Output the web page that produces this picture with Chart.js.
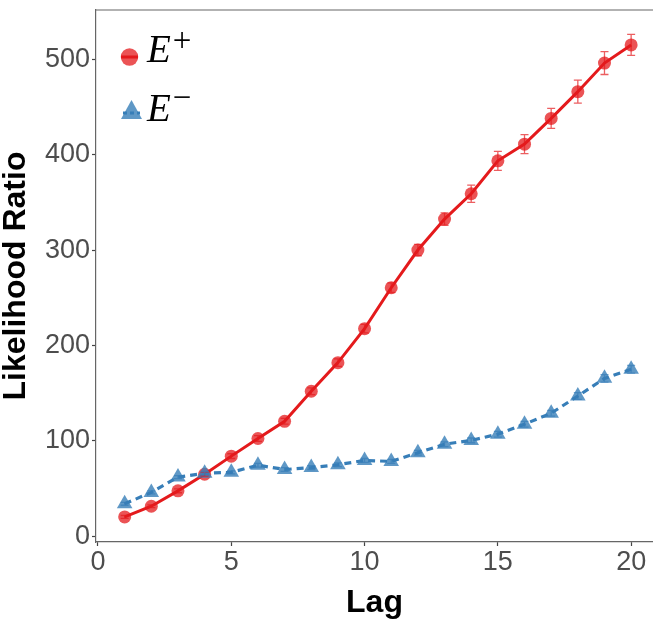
<!DOCTYPE html>
<html>
<head>
<meta charset="utf-8">
<script src="https://cdn.jsdelivr.net/npm/chart.js@4/dist/chart.umd.min.js"></script>
<style>
  body { margin: 0; background: #fff; }
  #wrap { width: 653px; height: 619px; position: relative; }
</style>
</head>
<body>
<div id="wrap"><canvas id="chart"></canvas></div>
<script>
const lags = [1, 2, 3, 4, 5, 6, 7, 8, 9, 10, 11, 12, 13, 14, 15, 16, 17, 18, 19, 20];
const ePlus = [20.3, 31.5, 47.6, 65, 84, 102.5, 120.5, 152, 182, 217.6, 260.5, 300, 332.5, 359, 393.5, 411, 438, 466, 496, 515];
const ePlusErr = [1.5, 1.5, 2, 2, 2.5, 3, 3, 3.5, 4, 4.5, 5, 6, 6.5, 9, 10, 10, 10.5, 12, 12, 11];
const eMinus = [34, 46, 62, 66, 67, 74.5, 70, 72, 75, 79.5, 78.5, 87.5, 96.5, 100.5, 107, 117.5, 129, 147, 165.5, 175];
const eMinusErr = [1.5, 1.5, 1.5, 1.5, 1.5, 2, 2, 2, 2, 2, 2, 2.5, 2.5, 2.5, 3, 3, 3, 3.5, 4, 4];
const xTicks = [0, 5, 10, 15, 20];
const yTicks = [0, 100, 200, 300, 400, 500];

const RED = 'rgba(228,26,28,1)';
const RED_PT = 'rgba(228,26,28,0.75)';
const BLUE = 'rgba(55,126,184,1)';
const BLUE_PT = 'rgba(55,126,184,0.8)';

const toPoints = (ys) => lags.map((x, i) => ({ x: x, y: ys[i] }));

// error bars, drawn through the scales
const errorBars = {
  id: 'errorBars',
  afterDatasetsDraw(chart) {
    const { ctx, scales: { x, y } } = chart;
    const sets = [[ePlus, ePlusErr, 'rgba(228,26,28,0.7)'], [eMinus, eMinusErr, 'rgba(55,126,184,0.7)']];
    ctx.save();
    ctx.lineWidth = 1.3;
    sets.forEach(([vals, errs, col]) => {
      ctx.strokeStyle = col;
      lags.forEach((l, i) => {
        const px = x.getPixelForValue(l);
        const top = y.getPixelForValue(vals[i] + errs[i]);
        const bot = y.getPixelForValue(vals[i] - errs[i]);
        ctx.beginPath();
        ctx.moveTo(px, top); ctx.lineTo(px, bot);
        ctx.moveTo(px - 4, top); ctx.lineTo(px + 4, top);
        ctx.moveTo(px - 4, bot); ctx.lineTo(px + 4, bot);
        ctx.stroke();
      });
    });
    ctx.restore();
  }
};

// top border of the panel
const panelBorder = {
  id: 'panelBorder',
  beforeDatasetsDraw(chart) {
    const { ctx, chartArea: a } = chart;
    ctx.save();
    ctx.strokeStyle = '#666';
    ctx.lineWidth = 1.2;
    ctx.beginPath();
    ctx.moveTo(a.left, a.top); ctx.lineTo(a.right, a.top);
    ctx.stroke();
    ctx.restore();
  }
};

// legend inside the panel, top left
const insideLegend = {
  id: 'insideLegend',
  afterDraw(chart) {
    const ctx = chart.ctx;
    ctx.save();
    // E+
    ctx.strokeStyle = RED; ctx.lineWidth = 3;
    ctx.beginPath(); ctx.moveTo(121, 57); ctx.lineTo(138, 57); ctx.stroke();
    ctx.fillStyle = RED_PT;
    ctx.beginPath(); ctx.arc(129.5, 57, 8.7, 0, Math.PI * 2); ctx.fill();
    // E-
    ctx.strokeStyle = BLUE; ctx.lineWidth = 3; ctx.setLineDash([4, 3]);
    ctx.beginPath(); ctx.moveTo(123, 113); ctx.lineTo(140, 113); ctx.stroke();
    ctx.setLineDash([]);
    ctx.fillStyle = BLUE_PT;
    ctx.beginPath();
    ctx.moveTo(131.5, 100); ctx.lineTo(142, 119); ctx.lineTo(121, 119); ctx.closePath();
    ctx.fill();

    ctx.fillStyle = '#000';
    ctx.textBaseline = 'alphabetic';
    const drawLabel = (base, sup, yBase, ySup) => {
      ctx.font = 'italic 39px "Liberation Serif", "DejaVu Serif", serif';
      ctx.fillText(base, 147, yBase);
      const w = ctx.measureText(base).width;
      ctx.font = '33px "Liberation Serif", "DejaVu Serif", serif';
      ctx.fillText(sup, 147 + w + 2, ySup);
    };
    drawLabel('E', '+', 62, 51);
    drawLabel('E', '\u2212', 121, 108);
    ctx.restore();
  }
};

const tickFont = { family: '"Liberation Sans", Arial, sans-serif', size: 27 };
const titleFont = { family: '"Liberation Sans", Arial, sans-serif', size: 32, weight: 'bold', lineHeight: 1 };

new Chart(document.getElementById('chart'), {
  type: 'line',
  data: {
    datasets: [
      {
        label: 'E+',
        data: toPoints(ePlus),
        borderColor: RED,
        borderWidth: 3,
        backgroundColor: RED_PT,
        pointStyle: 'circle',
        pointRadius: 6.5,
        pointBorderWidth: 0,
        pointBackgroundColor: RED_PT,
        tension: 0,
        order: 2
      },
      {
        label: 'E-',
        data: toPoints(eMinus),
        borderColor: BLUE,
        borderWidth: 3.2,
        borderDash: [7, 5],
        backgroundColor: BLUE_PT,
        pointStyle: 'triangle',
        pointRadius: 9,
        pointBorderWidth: 0,
        pointBackgroundColor: BLUE_PT,
        tension: 0,
        order: 1
      }
    ]
  },
  options: {
    responsive: true,
    maintainAspectRatio: false,
    animation: false,
    layout: { autoPadding: false, padding: { top: 10, right: 0, left: 0, bottom: 0 } },
    plugins: {
      legend: { display: false },
      tooltip: { enabled: false }
    },
    scales: {
      x: {
        type: 'linear',
        min: -0.075,
        max: 20.82,
        afterBuildTicks: (s) => { s.ticks = xTicks.map(v => ({ value: v })); },
        afterFit: (s) => { s.height = 77; s.paddingLeft = 0; s.paddingRight = 0; },
        ticks: { font: tickFont, color: '#4d4d4d', padding: 0, maxRotation: 0 },
        grid: { drawOnChartArea: false, drawTicks: true, tickLength: 4, tickColor: '#444', tickWidth: 1.2 },
        border: { display: true, color: '#666', width: 1.2 },
        title: { display: true, text: 'Lag', font: titleFont, color: '#000', padding: { top: 0, bottom: 0 } }
      },
      y: {
        type: 'linear',
        min: -6,
        max: 551.6,
        afterBuildTicks: (s) => { s.ticks = yTicks.map(v => ({ value: v })); },
        afterFit: (s) => { s.width = 96; s.paddingTop = 0; s.paddingBottom = 0; },
        ticks: { font: tickFont, color: '#4d4d4d', padding: 2 },
        grid: { drawOnChartArea: false, drawTicks: true, tickLength: 4, tickColor: '#444', tickWidth: 1.2 },
        border: { display: true, color: '#666', width: 1.2 },
        title: { display: true, text: 'Likelihood Ratio', font: titleFont, color: '#000', padding: { top: 0, bottom: 0 } }
      }
    }
  },
  plugins: [errorBars, panelBorder, insideLegend]
});
</script>
</body>
</html>
